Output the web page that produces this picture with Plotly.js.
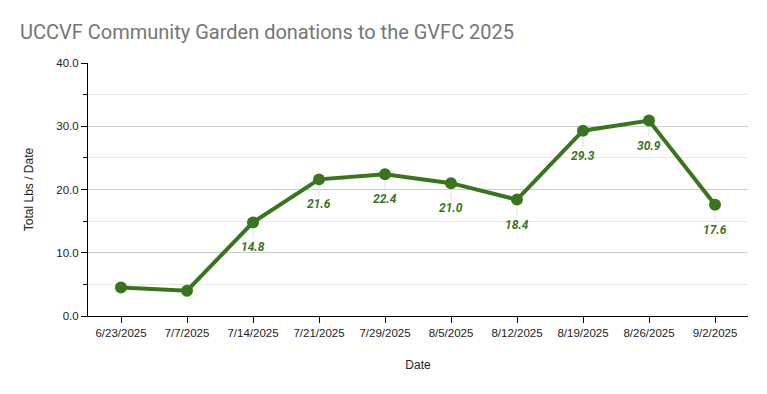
<!DOCTYPE html>
<html>
<head>
<meta charset="utf-8">
<script src="https://cdn.plot.ly/plotly-3.0.1.min.js"></script>
<style>html,body{margin:0;padding:0;background:#fff;}#chart{width:767px;height:394px;}</style>
</head>
<body>
<div id="chart"></div>
<script>
const dates = ["6/23/2025","7/7/2025","7/14/2025","7/21/2025","7/29/2025","8/5/2025","8/12/2025","8/19/2025","8/26/2025","9/2/2025"];
const totalLbs = [4.5, 4.0, 14.8, 21.6, 22.4, 21.0, 18.4, 29.3, 30.9, 17.6];
const labelText = [null, null, "14.8", "21.6", "22.4", "21.0", "18.4", "29.3", "30.9", "17.6"];
const yTickVals = [0, 10, 20, 30, 40];
const yTickText = ["0.0", "10.0", "20.0", "30.0", "40.0"];

const green = "#38761d";
const axisFont = "Arial, 'Liberation Sans', sans-serif";

const annotations = [];
dates.forEach((d, i) => {
  if (labelText[i] === null) return;
  annotations.push({
    x: d, y: totalLbs[i], xref: "x", yref: "y",
    text: "<b><i>" + labelText[i] + "</i></b>",
    showarrow: true, arrowhead: 0, arrowwidth: 1, arrowcolor: "#e0e0e0",
    ax: 0, ay: 25, standoff: 6, startstandoff: 0,
    font: {family: "Roboto, Arial, sans-serif", size: 12, color: green},
    bgcolor: "rgba(0,0,0,0)"
  });
});

const trace = {
  x: dates, y: totalLbs, type: "scatter", mode: "lines+markers",
  line: {color: green, width: 4},
  marker: {color: green, size: 12},
  hoverinfo: "none", cliponaxis: false
};

const layout = {
  width: 767, height: 394,
  margin: {l: 88, r: 19, t: 63, b: 78},
  paper_bgcolor: "#fff", plot_bgcolor: "#fff",
  showlegend: false,
  font: {family: axisFont, size: 11, color: "#222"},
  title: {
    text: "UCCVF Community Garden donations to the GVFC 2025",
    font: {family: "Roboto, Arial, sans-serif", size: 20, color: "#757575"},
    x: 20 / 767, xref: "container", xanchor: "left", y: 0.918, yref: "container", yanchor: "middle"
  },
  xaxis: {
    type: "category", range: [-0.5, 9.5],
    showline: true, linecolor: "#000", linewidth: 1,
    ticks: "outside", ticklen: 6, tickcolor: "#000",
    showgrid: false, zeroline: false,
    tickfont: {family: axisFont, size: 11.5, color: "#222"},
    title: {text: "Date", font: {family: axisFont, size: 12, color: "#222"}, standoff: 22}
  },
  yaxis: {
    range: [0, 40], tickvals: yTickVals, ticktext: yTickText,
    showline: true, linecolor: "#000", linewidth: 1,
    ticks: "outside", ticklen: 6, tickcolor: "#000",
    showgrid: true, gridcolor: "#cccccc", gridwidth: 1, zeroline: false,
    minor: {dtick: 5, showgrid: true, gridcolor: "#e6e6e6", ticks: "outside", ticklen: 4, tickcolor: "#000"},
    tickfont: {family: axisFont, size: 11.5, color: "#222"},
    title: {text: "Total Lbs / Date", font: {family: axisFont, size: 12, color: "#222"}, standoff: 20}
  },
  annotations: annotations
};

Plotly.newPlot("chart", [trace], layout, {staticPlot: true, displayModeBar: false});
</script>
</body>
</html>
